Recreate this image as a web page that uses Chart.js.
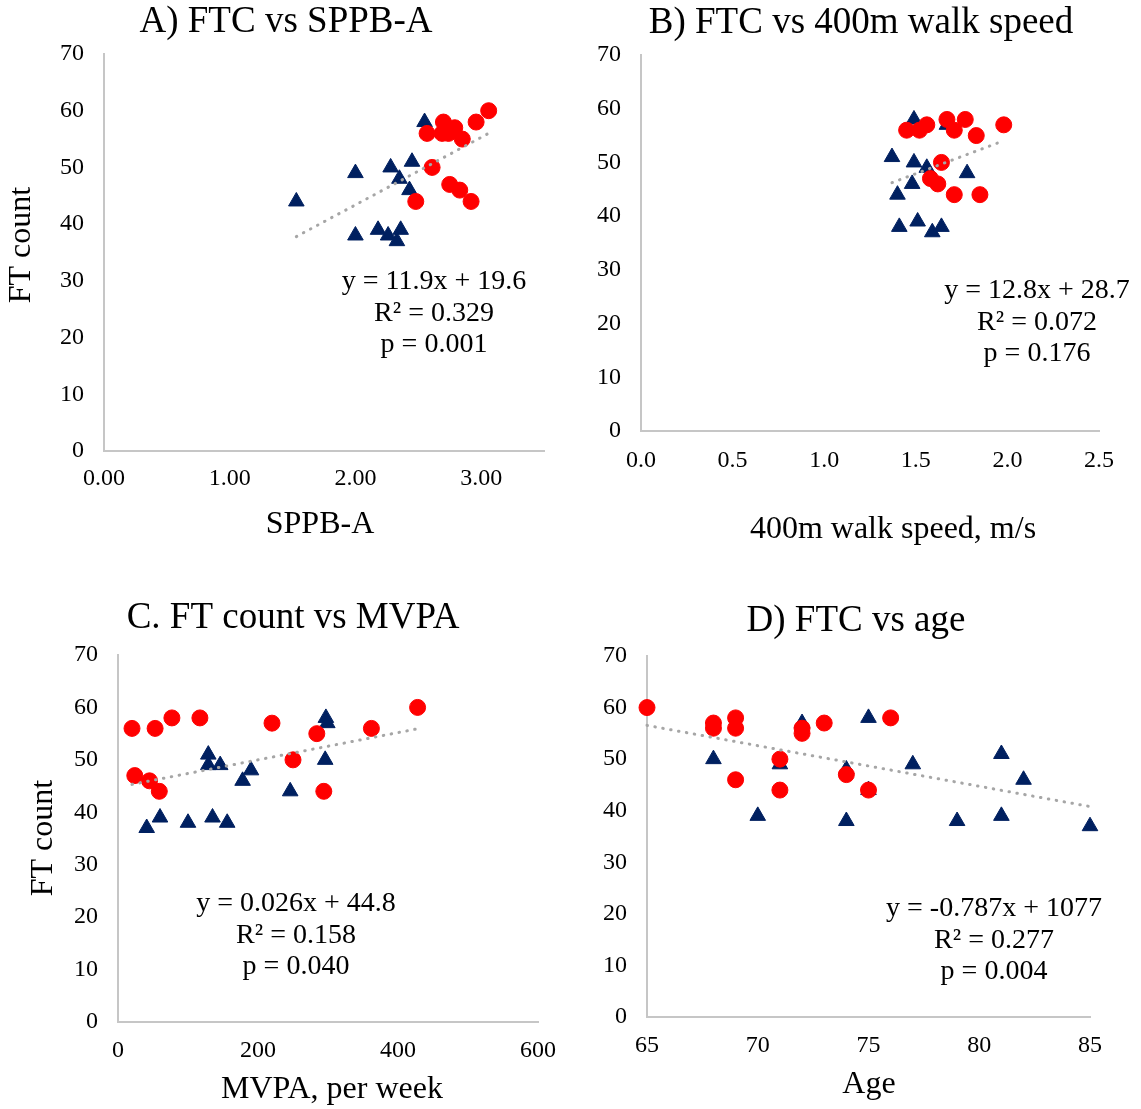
<!DOCTYPE html>
<html lang="en">
<head>
    <meta charset="UTF-8">
    <title>FT count vs physical function</title>
    <script src="https://cdn.jsdelivr.net/npm/chart.js"></script>
    <style>
        body { margin: 0; background: #fff; }
        #figure { position: relative; width: 1141px; height: 1109px; }
        #figure canvas { position: absolute; }
    </style>
</head>
<body>
<div id="figure">
    <canvas id="panelA" width="570" height="555" style="left:0;top:0"></canvas>
    <canvas id="panelB" width="571" height="555" style="left:570px;top:0"></canvas>
    <canvas id="panelC" width="570" height="554" style="left:0;top:555px"></canvas>
    <canvas id="panelD" width="571" height="554" style="left:570px;top:555px"></canvas>
</div>

<script>
    // A) SPPB-A
    const sppbTri = [1.53, 2.00, 2.00, 2.18, 2.26, 2.33, 2.36, 2.28, 2.35, 2.43, 2.45, 2.55];
    const sppbTriFtc = [44, 49, 38, 39, 38, 37, 39, 50, 48, 46, 51, 58];
    const sppbDot = [2.48, 2.57, 2.61, 2.70, 2.69, 2.74, 2.79, 2.85, 2.75, 2.83, 2.92, 2.96, 3.06];
    const sppbDotFtc = [44, 56, 50, 58, 56, 56, 57, 55, 47, 46, 44, 58, 60];

    // B) 400m walk speed, m/s
    const walkTri = [1.37, 1.49, 1.67, 1.49, 1.56, 1.48, 1.40, 1.78, 1.41, 1.51, 1.59, 1.64];
    const walkTriFtc = [51, 58, 57, 50, 49, 46, 44, 48, 38, 39, 37, 38];
    const walkDot = [1.45, 1.52, 1.56, 1.67, 1.71, 1.77, 1.83, 1.98, 1.64, 1.58, 1.62, 1.71, 1.85];
    const walkDotFtc = [56, 56, 57, 58, 56, 58, 55, 57, 50, 47, 46, 44, 44];

    // C) MVPA, per week
    const mvpaTri = [41, 60, 100, 135, 156, 129, 129, 146, 178, 190, 246, 297, 299, 296];
    const mvpaTriFtc = [37, 39, 38, 39, 38, 51, 49, 49, 46, 48, 44, 58, 57, 50];
    const mvpaDot = [20, 53, 77, 117, 220, 284, 362, 428, 250, 24, 45, 59, 294];
    const mvpaDotFtc = [56, 56, 58, 58, 57, 55, 56, 60, 50, 47, 46, 44, 44];

    // D) Age
    const ageTri = [68, 70, 71, 72, 74, 74, 75, 75, 77, 79, 81, 81, 82, 85];
    const ageTriFtc = [50, 39, 49, 57, 38, 48, 58, 44, 49, 38, 51, 39, 46, 37];
    const ageDot = [65, 68, 68, 69, 69, 69, 71, 71, 72, 72, 73, 74, 75, 76];
    const ageDotFtc = [60, 57, 56, 58, 56, 46, 50, 44, 56, 55, 57, 47, 44, 58];

    // linear fits (D's printed intercept lost its decimal point; the line uses 107.7)
    const fitSlope = [11.9, 12.8, 0.026, -0.787];
    const fitIntercept = [19.6, 28.7, 44.8, 107.7];
    const fitText = [
        ['y = 11.9x + 19.6', 'R\u00b2 = 0.329', 'p = 0.001'],
        ['y = 12.8x + 28.7', 'R\u00b2 = 0.072', 'p = 0.176'],
        ['y = 0.026x + 44.8', 'R\u00b2 = 0.158', 'p = 0.040'],
        ['y = -0.787x + 1077', 'R\u00b2 = 0.277', 'p = 0.004']
    ];

    const panelTitles = ['A) FTC vs SPPB-A', 'B) FTC vs 400m walk speed', 'C. FT count vs MVPA', 'D) FTC vs age'];
    const xTitles = ['SPPB-A', '400m walk speed, m/s', 'MVPA, per week', 'Age'];
    const yTitles = ['FT count', '', 'FT count', ''];

    const xMin = [0, 0, 0, 65];
    const xMax = [3.5, 2.5, 600, 85];
    const xStep = [1, 0.5, 200, 5];
    const xDecimals = [2, 1, 0, 0];
    const yMin = 0, yMax = 70, yStep = 10;

    // plot box and text anchors for each canvas (canvas pixels)
    const layouts = [
        { id: 'panelA', plot: { l: 104, t: 54, r: 544, b: 451 }, title: [286, 22], xTitle: [320, 525], yTitle: [22, 245], note: [434, 282], xPad: 13 },
        { id: 'panelB', plot: { l: 71, t: 55, r: 529, b: 431 }, title: [291, 23], xTitle: [323, 530], yTitle: null, note: [467, 291], xPad: 15 },
        { id: 'panelC', plot: { l: 118, t: 100, r: 538, b: 467 }, title: [293, 63], xTitle: [332, 535], yTitle: [44, 283], note: [296, 349], xPad: 14 },
        { id: 'panelD', plot: { l: 77, t: 101, r: 520, b: 462 }, title: [286, 66], xTitle: [299, 530], yTitle: null, note: [424, 354], xPad: 14 }
    ];

    const serif = '"Liberation Serif", "Times New Roman", serif';
    const navy = '#002060';
    const red = '#ff0000';

    // draws the panel title, axis titles and fit statistics
    const panelText = {
        id: 'panelText',
        afterDraw(chart, args, opts) {
            const ctx = chart.ctx;
            ctx.save();
            ctx.fillStyle = '#000';
            ctx.textAlign = 'center';
            ctx.textBaseline = 'middle';

            ctx.font = '37px ' + serif;
            ctx.fillText(opts.title, opts.titlePos[0], opts.titlePos[1]);

            ctx.font = '32px ' + serif;
            ctx.fillText(opts.xTitle, opts.xTitlePos[0], opts.xTitlePos[1]);
            if (opts.yTitle) {
                ctx.save();
                ctx.translate(opts.yTitlePos[0], opts.yTitlePos[1]);
                ctx.rotate(-Math.PI / 2);
                ctx.fillText(opts.yTitle, 0, 0);
                ctx.restore();
            }

            ctx.font = '28px ' + serif;
            opts.lines.forEach((line, i) => {
                ctx.fillText(line, opts.notePos[0], opts.notePos[1] + i * 31.5);
            });
            ctx.restore();
        }
    };

    function toPoints(xs, ys) {
        return xs.map((x, i) => ({ x: x, y: ys[i] }));
    }

    function trendPoints(k, allX) {
        const lo = Math.min(...allX);
        const hi = Math.max(...allX);
        return [lo, hi].map(x => ({ x: x, y: fitSlope[k] * x + fitIntercept[k] }));
    }

    function drawPanel(k, triX, triY, dotX, dotY) {
        const lay = layouts[k];
        const canvas = document.getElementById(lay.id);
        const W = canvas.width, H = canvas.height;

        new Chart(canvas, {
            type: 'scatter',
            data: {
                datasets: [
                    {
                        label: 'Linear fit',
                        data: trendPoints(k, triX.concat(dotX)),
                        showLine: true,
                        pointRadius: 0,
                        borderColor: '#a6a6a6',
                        borderWidth: 3,
                        borderDash: [0.5, 7.5],
                        borderCapStyle: 'round',
                        clip: false
                    },
                    {
                        label: 'Circles',
                        data: toPoints(dotX, dotY),
                        pointStyle: 'circle',
                        pointRadius: 8,
                        pointBackgroundColor: red,
                        pointBorderColor: red,
                        pointBorderWidth: 1,
                        clip: false
                    },
                    {
                        label: 'Triangles',
                        data: toPoints(triX, triY),
                        pointStyle: 'triangle',
                        pointRadius: 9,
                        pointBackgroundColor: navy,
                        pointBorderColor: navy,
                        pointBorderWidth: 1,
                        clip: false
                    }
                ]
            },
            options: {
                responsive: false,
                animation: false,
                events: [],
                layout: {
                    padding: { left: 0, top: lay.plot.t, right: W - lay.plot.r, bottom: 0 }
                },
                plugins: {
                    legend: { display: false },
                    tooltip: { enabled: false },
                    panelText: {
                        title: panelTitles[k],
                        titlePos: lay.title,
                        xTitle: xTitles[k],
                        xTitlePos: lay.xTitle,
                        yTitle: yTitles[k],
                        yTitlePos: lay.yTitle,
                        lines: fitText[k],
                        notePos: lay.note
                    }
                },
                scales: {
                    x: {
                        type: 'linear',
                        min: xMin[k],
                        max: xMax[k],
                        afterFit: scale => { scale.height = H - lay.plot.b; },
                        grid: { display: false, drawTicks: false },
                        border: { display: true, color: '#c6c6c6', width: 2 },
                        ticks: {
                            stepSize: xStep[k],
                            includeBounds: false,
                            maxRotation: 0,
                            padding: lay.xPad,
                            color: '#000',
                            font: { family: serif, size: 24 },
                            callback: value => value.toFixed(xDecimals[k])
                        }
                    },
                    y: {
                        type: 'linear',
                        min: yMin,
                        max: yMax,
                        afterFit: scale => { scale.width = lay.plot.l; },
                        grid: { display: false, drawTicks: false },
                        border: { display: true, color: '#c6c6c6', width: 2 },
                        ticks: {
                            stepSize: yStep,
                            padding: 20,
                            color: '#000',
                            font: { family: serif, size: 24 }
                        }
                    }
                }
            },
            plugins: [panelText]
        });
    }

    drawPanel(0, sppbTri, sppbTriFtc, sppbDot, sppbDotFtc);
    drawPanel(1, walkTri, walkTriFtc, walkDot, walkDotFtc);
    drawPanel(2, mvpaTri, mvpaTriFtc, mvpaDot, mvpaDotFtc);
    drawPanel(3, ageTri, ageTriFtc, ageDot, ageDotFtc);
</script>
</body>
</html>
